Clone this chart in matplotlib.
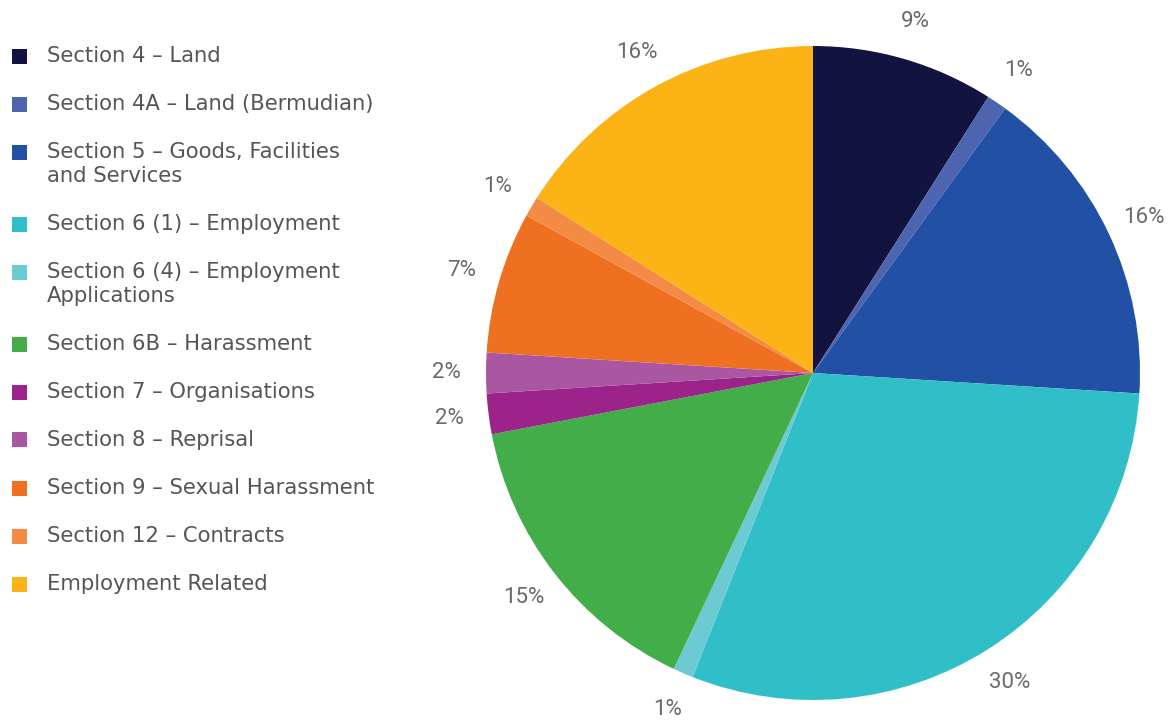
import matplotlib
matplotlib.use("Agg")
import matplotlib.pyplot as plt
from matplotlib.patches import Rectangle
import numpy as np

categories = [
    "Section 4 – Land",
    "Section 4A – Land (Bermudian)",
    "Section 5 – Goods, Facilities\nand Services",
    "Section 6 (1) – Employment",
    "Section 6 (4) – Employment\nApplications",
    "Section 6B – Harassment",
    "Section 7 – Organisations",
    "Section 8 – Reprisal",
    "Section 9 – Sexual Harassment",
    "Section 12 – Contracts",
    "Employment Related",
]
values = [9, 1, 16, 30, 1, 15, 2, 2, 7, 1, 16]
colors = ["#12143f", "#4d64b0", "#2150a5", "#30bfc8", "#6ccbd2", "#43ad4a",
          "#9b2389", "#aa57a3", "#f07022", "#f48b44", "#fbb316"]

W, H = 1173, 721
fig = plt.figure(figsize=(W / 100, H / 100), dpi=100)

cx, cy, R = 813, 373, 327
ax = fig.add_axes([(cx - R) / W, (H - cy - R) / H, 2 * R / W, 2 * R / H])
wedges, texts = ax.pie(values, colors=colors, startangle=90, counterclock=False,
                       radius=1.0, labels=[f"{v}%" for v in values],
                       labeldistance=1.12,
                       wedgeprops=dict(linewidth=0),
                       textprops=dict(fontsize=16, color="#6a6a6a",
                                      family=["Roboto", "DejaVu Sans"]))
for t in texts:
    t.set_ha("center")
    t.set_va("center")
    t.set_clip_on(False)
ax.set_xlim(-1, 1)
ax.set_ylim(-1, 1)
ax.set_aspect("equal")
ax.axis("off")

# legend
y = 56
for cat, col in zip(categories, colors):
    fig.patches.append(Rectangle((12 / W, 1 - (y + 7.5) / H), 15 / W, 15 / H,
                                 transform=fig.transFigure, facecolor=col,
                                 edgecolor="none"))
    lines = cat.split("\n")
    for i, line in enumerate(lines):
        fig.text(47 / W, 1 - (y + 24 * i) / H, line, ha="left", va="center",
                 fontsize=15.2, color="#555555", family=["DejaVu Sans"])
    y += 48 + 24 * (len(lines) - 1)

fig.savefig("out.png", dpi=100)
